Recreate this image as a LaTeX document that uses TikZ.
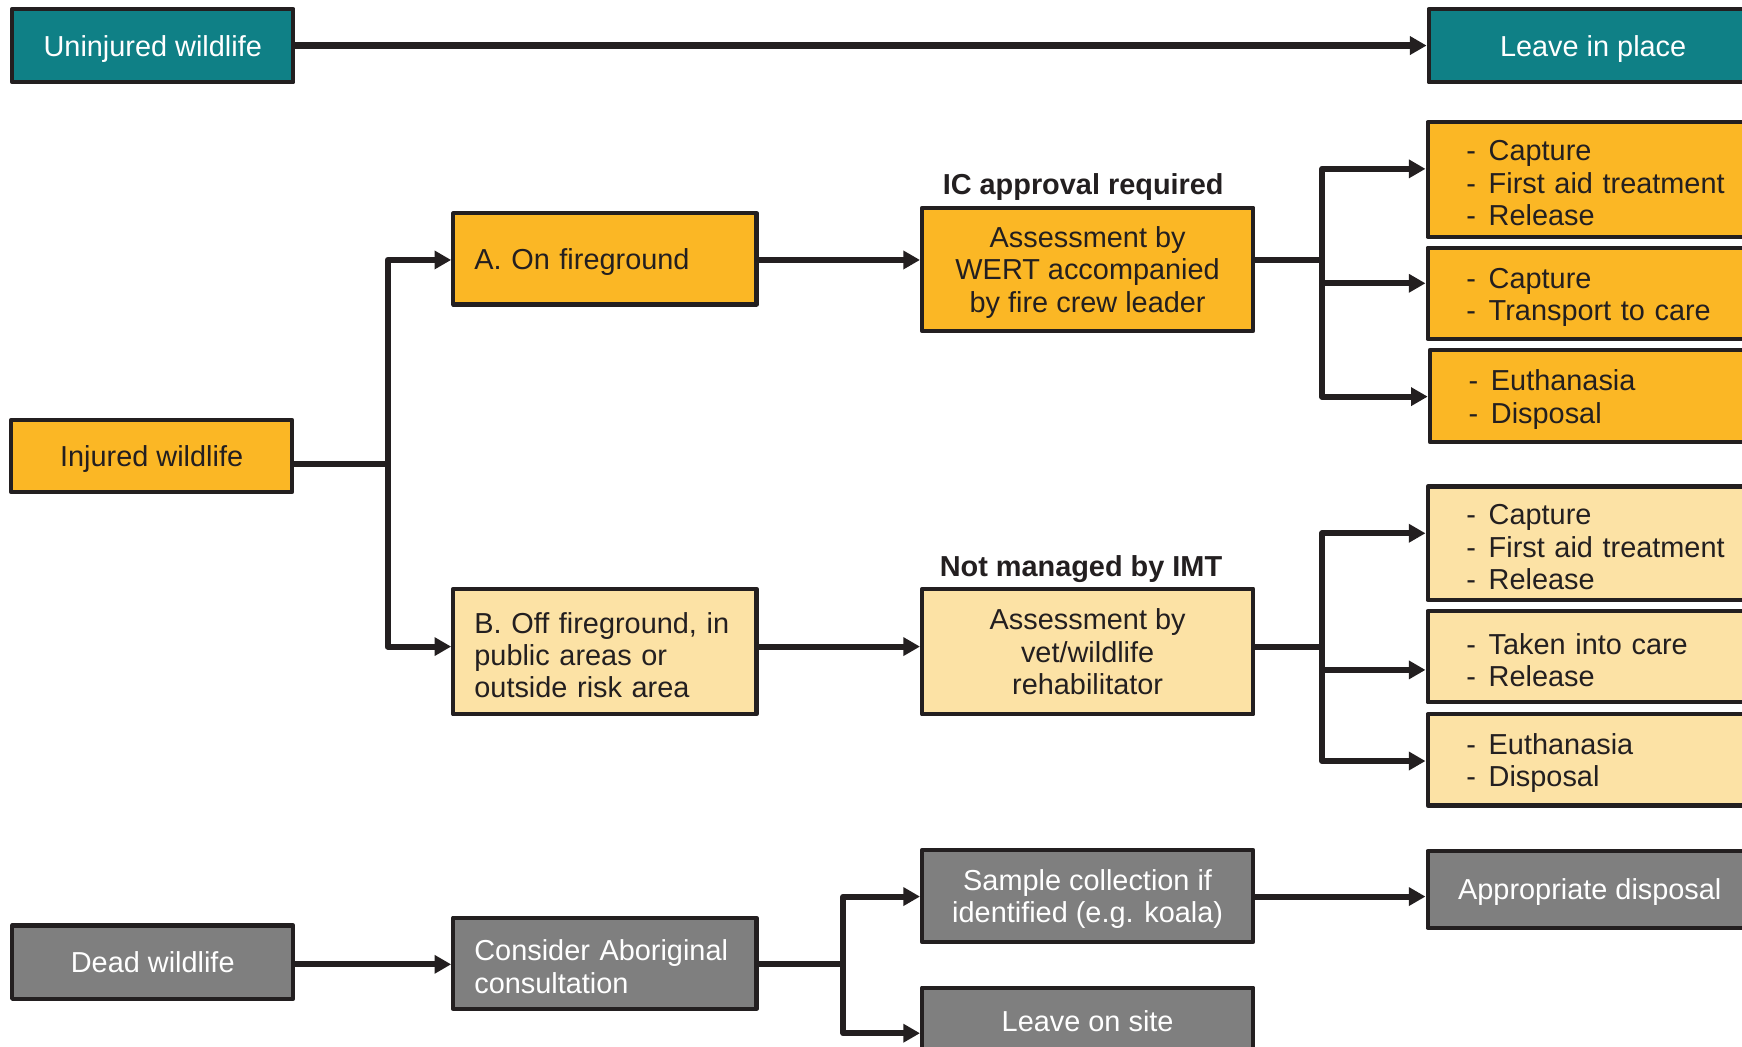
\documentclass[tikz,border=0pt]{standalone}
\usepackage{fontspec}
\setmainfont{Liberation Sans}
\usetikzlibrary{arrows.meta}

\definecolor{ink}{HTML}{231F20}
\definecolor{wteal}{HTML}{0F8086}
\definecolor{worange}{HTML}{FBB725}
\definecolor{wcream}{HTML}{FCE2A5}
\definecolor{wgrey}{HTML}{7F7F7F}

% one bullet of a list box
\newcommand\dashitem{\makebox[20pt][l]{-}}
% taller first line, to sit left-aligned text a little lower
\newcommand\firststrut{\rule{0pt}{25pt}}
\newcommand\shortstrut{\rule{0pt}{20pt}}

\tikzset{
  box/.style={draw=ink, line width=3.8pt, line join=round, inner sep=0pt,
    font=\fontsize{26}{29}\selectfont, text=ink},
  ctr/.style={align=center, text depth=0pt},
  tealbox/.style={box, fill=wteal, text=white},
  greybox/.style={box, fill=wgrey, text=white},
  orangebox/.style={box, fill=worange},
  creambox/.style={box, fill=wcream},
  leftbox/.style={align=left, inner xsep=19pt, text width=235pt,
    execute at begin node=\firststrut},
  listbox/.style={align=left, inner xsep=35pt, text width=245pt,
    execute at begin node=\firststrut},
  raised/.style={execute at begin node=\shortstrut},
  wire/.style={draw=ink, line width=5.5pt, line join=round},
  flow/.style={wire, -{Triangle[length=15pt,width=16pt]}},
  note/.style={font=\bfseries\fontsize{26}{29}\selectfont, text=ink}
}

\begin{document}
\begin{tikzpicture}[x=1pt, y=-1pt]
  \useasboundingbox (0,0) rectangle (1568,942);
  \clip (0,0) rectangle (1568,942);

  % ---------- uninjured ----------
  \node[tealbox, ctr, minimum width=253pt, minimum height=66pt] (uninj) at (137.5,41) {Uninjured wildlife};
  \node[tealbox, ctr, minimum width=296pt, minimum height=66pt] (leave) at (1434,41) {Leave in place};
  \draw[flow] (uninj) -- (leave);

  % ---------- injured ----------
  \node[orangebox, ctr, minimum width=253pt, minimum height=65pt] (inj) at (136.5,410.5) {Injured wildlife};
  \node[orangebox, leftbox, minimum height=82pt] (onfg) at (544.5,233) {A. On fireground};
  \node[creambox, leftbox, raised, minimum height=113pt] (offfg) at (544.5,586.5)
    {B. Off fireground, in\\public areas or\\outside risk area};

  \node[orangebox, ctr, minimum width=298pt, minimum height=111pt] (wert) at (979,242.5)
    {Assessment by\\WERT accompanied\\by fire crew leader};
  \node[note] (icap) at (975,168) {IC approval required};
  \node[creambox, ctr, minimum width=298pt, minimum height=113pt] (vet) at (979,586.5)
    {Assessment by\\vet/wildlife\\rehabilitator};
  \node[note] (imt) at (973,512) {Not managed by IMT};

  \node[orangebox, listbox, minimum height=103pt] (r1) at (1442.5,161.5)
    {\dashitem Capture\\\dashitem First aid treatment\\\dashitem Release};
  \node[orangebox, listbox, minimum height=82pt] (r2) at (1442.5,264)
    {\dashitem Capture\\\dashitem Transport to care};
  \node[orangebox, listbox, minimum height=83pt] (r3) at (1444.5,356.5)
    {\dashitem Euthanasia\\\dashitem Disposal};
  \node[creambox, listbox, minimum height=102pt] (r4) at (1442.5,489)
    {\dashitem Capture\\\dashitem First aid treatment\\\dashitem Release};
  \node[creambox, listbox, raised, minimum height=82pt] (r5) at (1442.5,591)
    {\dashitem Taken into care\\\dashitem Release};
  \node[creambox, listbox, minimum height=82pt] (r6) at (1442.5,684)
    {\dashitem Euthanasia\\\dashitem Disposal};

  % split after the injured box
  \coordinate (jinj) at (349,418);
  \coordinate (ba) at (349,234);
  \coordinate (bb) at (349,582);
  \draw[wire] (inj.east |- jinj) -- (jinj);
  \draw[flow] (jinj) -- (ba) -- (onfg.west |- ba);
  \draw[flow] (jinj) -- (bb) -- (offfg.west |- bb);

  \draw[flow] (onfg.east |- ba) -- (wert.west |- ba);
  \draw[flow] (offfg.east |- bb) -- (vet.west |- bb);

  % outcomes on the fireground
  \coordinate (jw) at (1190,234);
  \coordinate (t1) at (1190,152);
  \coordinate (t2) at (1190,255);
  \coordinate (t3) at (1190,357);
  \draw[wire] (wert.east |- jw) -- (jw);
  \draw[flow] (jw) -- (t1) -- (r1.west |- t1);
  \draw[flow] (jw) -- (t3) -- (r3.west |- t3);
  \draw[flow] (t2) -- (r2.west |- t2);

  % outcomes off the fireground
  \coordinate (jv) at (1190,582);
  \coordinate (u1) at (1190,480);
  \coordinate (u2) at (1190,603);
  \coordinate (u3) at (1190,685);
  \draw[wire] (vet.east |- jv) -- (jv);
  \draw[flow] (jv) -- (u1) -- (r4.west |- u1);
  \draw[flow] (jv) -- (u3) -- (r6.west |- u3);
  \draw[flow] (u2) -- (r5.west |- u2);

  % ---------- dead ----------
  \node[greybox, ctr, minimum width=253pt, minimum height=66pt] (dead) at (137.5,866) {Dead wildlife};
  \node[greybox, leftbox, raised, minimum height=82pt] (abor) at (544.5,867)
    {Consider Aboriginal\\consultation};
  \node[greybox, ctr, minimum width=298pt, minimum height=83pt] (sample) at (979,806.5)
    {Sample collection if\\identified (e.g. koala)};
  \node[greybox, ctr, minimum width=298pt, minimum height=60pt] (site) at (979,919)
    {Leave on site};
  \node[greybox, ctr, minimum width=292pt, minimum height=69pt] (disp) at (1431,800.5)
    {Appropriate disposal};

  \coordinate (jd) at (759,868);
  \coordinate (s1) at (759,807);
  \coordinate (s2) at (759,930);
  \draw[flow] (dead.east |- jd) -- (abor.west |- jd);
  \draw[wire] (abor.east |- jd) -- (jd);
  \draw[flow] (jd) -- (s1) -- (sample.west |- s1);
  \draw[flow] (jd) -- (s2) -- (site.west |- s2);
  \draw[flow] (sample.east |- s1) -- (disp.west |- s1);
\end{tikzpicture}
\end{document}
